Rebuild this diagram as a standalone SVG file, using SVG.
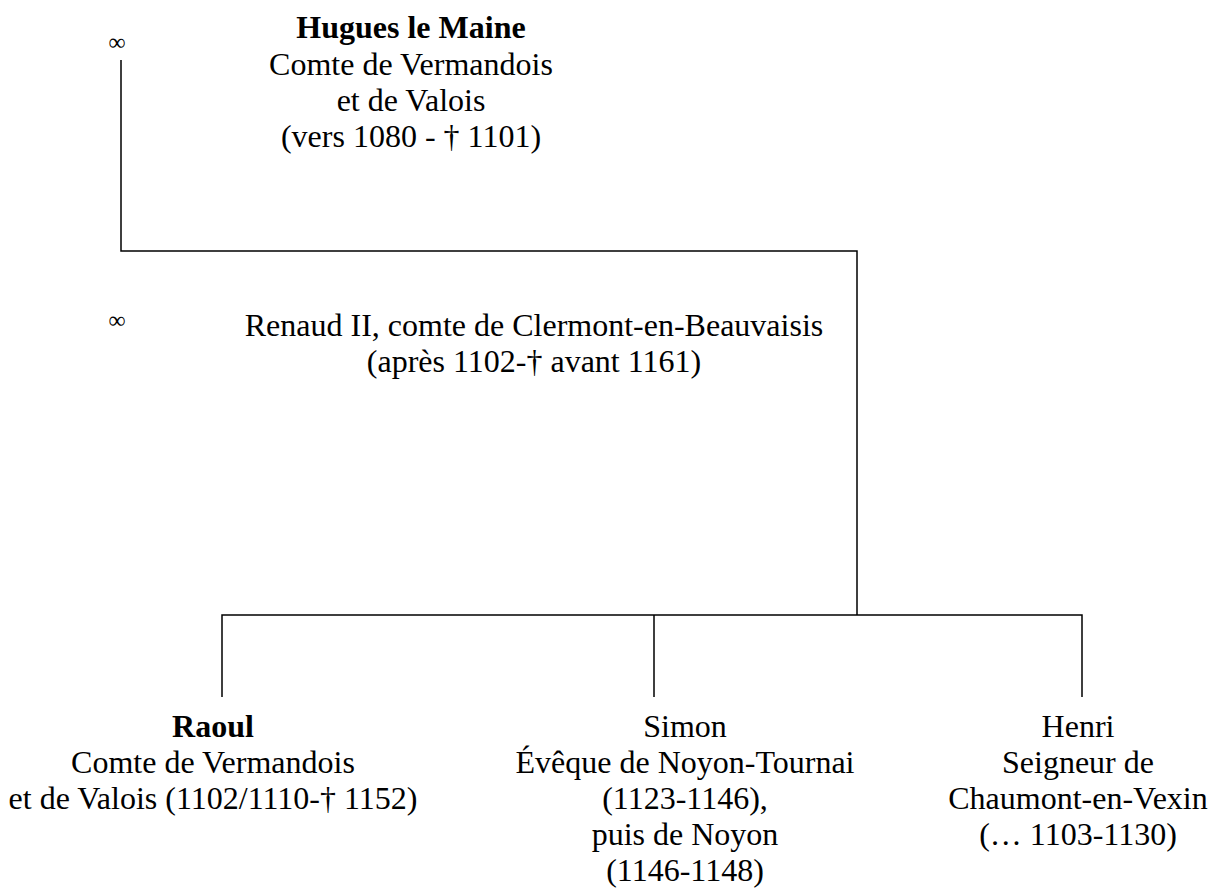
<svg xmlns="http://www.w3.org/2000/svg" width="1214" height="891" viewBox="0 0 1214 891">
<style>
text{font-family:"Liberation Serif","Times New Roman",serif;font-size:32px;fill:#000;text-anchor:middle}
.b{font-weight:bold}
.inf{font-size:24px}
.ln{stroke:#000;stroke-width:1.5;fill:none}
</style>
<rect width="1214" height="891" fill="#fff"/>
<g id="connectors">
<path class="ln" d="M121 60V251H857V615"/>
<path class="ln" d="M222 697V615H1082V697M654 615V697"/>
</g>
<g id="marriage1"><text class="inf" x="117" y="50">∞</text></g>
<g id="marriage2"><text class="inf" x="117" y="328">∞</text></g>
<g id="hugues">
<text class="b" x="411" y="38">Hugues le Maine</text>
<text x="411" y="75">Comte de Vermandois</text>
<text x="411" y="111">et de Valois</text>
<text x="411" y="147">(vers 1080 - † 1101)</text>
</g>
<g id="renaud">
<text x="534" y="336">Renaud II, comte de Clermont-en-Beauvaisis</text>
<text x="534" y="372">(après 1102-† avant 1161)</text>
</g>
<g id="raoul">
<text class="b" x="213" y="737">Raoul</text>
<text x="213" y="773">Comte de Vermandois</text>
<text x="213" y="809">et de Valois (1102/1110-† 1152)</text>
</g>
<g id="simon">
<text x="685" y="737">Simon</text>
<text x="685" y="773">Évêque de Noyon-Tournai</text>
<text x="685" y="809">(1123-1146),</text>
<text x="685" y="845">puis de Noyon</text>
<text x="685" y="881">(1146-1148)</text>
</g>
<g id="henri">
<text x="1078" y="737">Henri</text>
<text x="1078" y="773">Seigneur de</text>
<text x="1078" y="809">Chaumont-en-Vexin</text>
<text x="1078" y="845">(… 1103-1130)</text>
</g>
</svg>
